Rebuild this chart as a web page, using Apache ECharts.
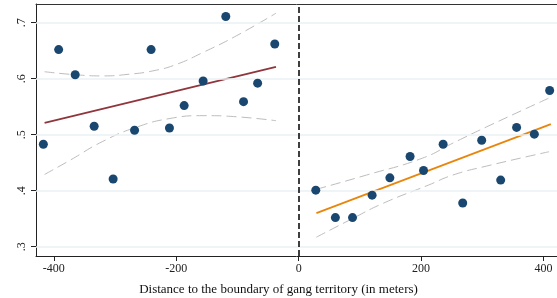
<!DOCTYPE html>
<html><head><meta charset="utf-8">
<script src="https://cdn.jsdelivr.net/npm/echarts@6/dist/echarts.min.js"></script>
<style>html,body{margin:0;padding:0;background:#fff}#c{width:557px;height:298px}</style>
</head><body><div id="c"></div>
<script>
const xTicks = [-400, -200, 0, 200, 400];
const yTicks = [0.3, 0.4, 0.5, 0.6, 0.7];
const leftX = [-417,-392,-365,-334,-303,-268,-241,-211,-187,-156,-119,-90,-67,-39];
const leftY = [0.483,0.652,0.607,0.515,0.421,0.508,0.652,0.512,0.552,0.596,0.711,0.559,0.592,0.662];
const rightX = [28,60,88,120,149,182,204,236,268,299,330,356,385,410];
const rightY = [0.401,0.352,0.352,0.392,0.423,0.461,0.436,0.483,0.378,0.490,0.419,0.513,0.501,0.579];
const leftFitX = [-415, -37];
const leftFitY = [0.521, 0.621];
const rightFitX = [29, 412];
const rightFitY = [0.360, 0.519];
const leftUpX = [-415,-364,-320,-277,-238,-201,-156,-101,-37];
const leftUpY = [0.6125,0.607,0.605,0.608,0.614,0.625,0.647,0.677,0.717];
const leftLoX = [-415,-374,-320,-266,-210,-156,-101,-37];
const leftLoY = [0.429,0.454,0.488,0.513,0.529,0.534,0.532,0.525];
const rightUpX = [29,111,202,252,307,408];
const rightUpY = [0.4025,0.428,0.458,0.485,0.514,0.565];
const rightLoX = [29,84,138,212,252,307,409];
const rightLoY = [0.317,0.348,0.3775,0.410,0.428,0.444,0.4696];
const xTitle = 'Distance to the boundary of gang territory (in meters)';

const zip = (a, b) => a.map((v, i) => [v, b[i]]);
const FONT = 'Liberation Serif';
const chart = echarts.init(document.getElementById('c'), null, {renderer: 'canvas'});
const ciStyle = {color: '#bdbdbd', width: 1, type: [10, 5]};
chart.setOption({
  animation: false,
  backgroundColor: '#fff',
  title: {text: xTitle, left: 'center', top: 278,
    textStyle: {fontFamily: FONT, fontSize: 13, fontWeight: 'normal', color: '#111'}},
  grid: {left: 36, right: 0, top: 4, bottom: 42},
  xAxis: [{
    type: 'value', min: -429, max: 422,
    axisLine: {show: true, onZero: false, lineStyle: {color: '#222', width: 1}},
    axisTick: {show: true, length: 5, customValues: xTicks, lineStyle: {color: '#222'}},
    axisLabel: {customValues: xTicks, margin: 7, fontFamily: FONT, fontSize: 12, color: '#222'},
    splitLine: {show: false}
  }, {
    type: 'value', position: 'top', min: -429, max: 422,
    axisLine: {show: true, lineStyle: {color: '#333', width: 1}},
    axisTick: {show: false}, axisLabel: {show: false}, splitLine: {show: false}
  }],
  yAxis: {
    type: 'value', min: 0.2834, max: 0.7334,
    axisLine: {show: true, onZero: false, lineStyle: {color: '#222', width: 1}},
    axisTick: {show: true, length: 5, customValues: yTicks, lineStyle: {color: '#222'}},
    axisLabel: {customValues: yTicks, rotate: 90, margin: 8, fontFamily: FONT, fontSize: 12, color: '#222',
      formatter: v => (Math.round(v * 10) / 10).toFixed(1).replace(/^0/, '')},
    splitLine: {show: false}
  },
  series: [
    {type: 'line', data: [], silent: true,
      markLine: {silent: true, symbol: 'none', label: {show: false},
        lineStyle: {color: '#eaf2f3', width: 1.5, type: 'solid'},
        data: yTicks.map(v => ({yAxis: v}))}},
    {type: 'line', data: [], silent: true, z: 5,
      markLine: {silent: true, symbol: 'none', label: {show: false},
        lineStyle: {color: '#000', width: 1.5, type: [6, 3]},
        data: [{xAxis: 0}]}},
    {type: 'line', data: zip(leftUpX, leftUpY), smooth: true, symbol: 'none', lineStyle: ciStyle},
    {type: 'line', data: zip(leftLoX, leftLoY), smooth: true, symbol: 'none', lineStyle: ciStyle},
    {type: 'line', data: zip(rightUpX, rightUpY), smooth: true, symbol: 'none', lineStyle: ciStyle},
    {type: 'line', data: zip(rightLoX, rightLoY), smooth: true, symbol: 'none', lineStyle: ciStyle},
    {type: 'line', data: zip(leftFitX, leftFitY), symbol: 'none', lineStyle: {color: '#90353b', width: 1.8}},
    {type: 'line', data: zip(rightFitX, rightFitY), symbol: 'none', lineStyle: {color: '#e8860c', width: 1.8}},
    {type: 'scatter', data: zip(leftX, leftY), symbolSize: 9, itemStyle: {color: '#1a476f', opacity: 1}, z: 6},
    {type: 'scatter', data: zip(rightX, rightY), symbolSize: 9, itemStyle: {color: '#1a476f', opacity: 1}, z: 6}
  ]
});
</script></body></html>
